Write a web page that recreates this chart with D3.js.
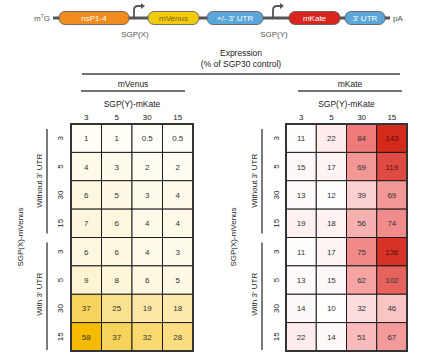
<!DOCTYPE html>
<html><head><meta charset="utf-8">
<script src="https://cdn.jsdelivr.net/npm/d3@7/dist/d3.min.js"></script>
<style>body{margin:0;background:#fff}svg{display:block;font-family:"Liberation Sans",Arial,sans-serif}</style>
</head><body><svg id="c" width="438" height="364"></svg>
<script>
const colLabels = ["3","5","30","15"];
const rowLabels = ["3","5","30","15"];
const groups = ["Without 3' UTR","With 3' UTR"];
const mVenus = [
  [1,1,0.5,0.5],[4,3,2,2],[6,5,3,4],[7,6,4,4],
  [6,6,4,3],[9,8,6,5],[37,25,19,18],[58,37,32,28]
];
const mKate = [
  [11,22,84,143],[15,17,69,119],[13,12,39,69],[19,18,56,74],
  [11,17,75,136],[13,15,62,102],[14,10,32,46],[22,14,51,67]
];
const parts = [
  {name:"nsP1-4", x0:59, x1:129, fill:"#f08b1d", text:"#fff"},
  {name:"mVenus", x0:148, x1:199, fill:"#f1cb10", text:"#7a5e00"},
  {name:"+/- 3' UTR", x0:207, x1:263, fill:"#5ba7d9", text:"#fff"},
  {name:"mKate", x0:289, x1:340, fill:"#d8261e", text:"#fff"},
  {name:"3' UTR", x0:345, x1:385, fill:"#5ba7d9", text:"#fff"}
];
const promoters = [{name:"SGP(X)", x:134},{name:"SGP(Y)", x:273}];

const svg = d3.select("#c");
const yL = 18;
const dx = d3.scaleLinear().domain([0,1]).range([53,390]);
svg.append("line").attr("x1",dx(0)).attr("x2",dx(1)).attr("y1",yL).attr("y2",yL)
  .attr("stroke","#555").attr("stroke-width",3);
const m7 = svg.append("text").attr("x",50).attr("y",yL+3).attr("text-anchor","end")
  .attr("font-size",8).attr("fill","#555");
m7.append("tspan").text("m");
m7.append("tspan").attr("dy",-3).attr("font-size",5.5).text("7");
m7.append("tspan").attr("dy",3).text("G");
svg.append("text").attr("x",393).attr("y",yL+3).attr("font-size",8).attr("fill","#555").text("pA");
parts.forEach(p=>{
  svg.append("rect").attr("x",p.x0).attr("y",yL-6.5).attr("width",p.x1-p.x0).attr("height",13)
    .attr("rx",6).attr("fill",p.fill).attr("stroke","#555").attr("stroke-width",0.8);
  svg.append("text").attr("x",(p.x0+p.x1)/2).attr("y",yL+3).attr("text-anchor","middle")
    .attr("font-size",8).attr("fill",p.text).text(p.name);
});
promoters.forEach(p=>{
  svg.append("path").attr("d",`M${p.x},${yL} L${p.x},${yL-8} Q${p.x},${yL-12} ${p.x+4},${yL-12} L${p.x+7},${yL-12}`)
    .attr("fill","none").attr("stroke","#555").attr("stroke-width",1.8);
  svg.append("path").attr("d",`M${p.x+7},${yL-15} L${p.x+11},${yL-12} L${p.x+7},${yL-9} Z`).attr("fill","#555");
  svg.append("text").attr("x",p.x+1).attr("y",37).attr("text-anchor","middle")
    .attr("font-size",8).attr("fill","#555").text(p.name);
});

svg.append("text").attr("x",241).attr("y",56).attr("text-anchor","middle").attr("font-size",8.5).attr("fill","#222").text("Expression");
svg.append("text").attr("x",241).attr("y",67).attr("text-anchor","middle").attr("font-size",8.5).attr("fill","#222").text("(% of SGP30 control)");
svg.append("line").attr("x1",82).attr("x2",400).attr("y1",74).attr("y2",74).attr("stroke","#444").attr("stroke-width",1.3);

const yScale = d3.scaleBand().domain(d3.range(8)).range([124,351]);
const yellow = d3.scaleLinear().domain([0,58]).range(["#fffefa","#f4bb00"]);
const red = d3.scaleLinear().domain([10,40,80,143]).range(["#ffffff","#fbd0d0","#f08080","#d42a1c"]).clamp(true);

function panel(data, color, x0, x1, title, lineX0, lineX1, rowLabX, grpLabX, grpLineX, axisLabX){
  const xs = d3.scaleBand().domain(d3.range(4)).range([x0,x1]);
  svg.append("text").attr("x",(lineX0+lineX1)/2).attr("y",87).attr("text-anchor","middle").attr("font-size",8.5).attr("fill","#222").text(title);
  svg.append("line").attr("x1",lineX0).attr("x2",lineX1).attr("y1",91).attr("y2",91).attr("stroke","#444").attr("stroke-width",1.3);
  svg.append("text").attr("x",(x0+x1)/2).attr("y",107).attr("text-anchor","middle").attr("font-size",8.5).attr("fill","#222").text("SGP(Y)-mKate");
  colLabels.forEach((c,i)=>svg.append("text").attr("x",xs(i)+xs.bandwidth()/2).attr("y",120)
    .attr("text-anchor","middle").attr("font-size",8).attr("fill","#222").text(c));
  const g = svg.append("g");
  data.forEach((row,r)=>row.forEach((v,c)=>{
    g.append("rect").attr("x",xs(c)).attr("y",yScale(r)).attr("width",xs.bandwidth()).attr("height",yScale.bandwidth())
      .attr("fill",color(v)).attr("stroke","#111").attr("stroke-width",0.9);
    g.append("text").attr("x",xs(c)+xs.bandwidth()/2).attr("y",yScale(r)+yScale.bandwidth()/2+3)
      .attr("text-anchor","middle").attr("font-size",8).attr("fill", v>110 && color===red ? "#5a0c08" : "#333").text(v);
  }));
  svg.append("rect").attr("x",x0).attr("y",124).attr("width",x1-x0).attr("height",227)
    .attr("fill","none").attr("stroke","#333").attr("stroke-width",2);
  d3.range(8).forEach(r=>{
    const cy = yScale(r)+yScale.bandwidth()/2;
    svg.append("text").attr("transform",`translate(${rowLabX},${cy}) rotate(-90)`).attr("text-anchor","middle")
      .attr("font-size",8).attr("fill","#222").text(rowLabels[r%4]);
  });
  groups.forEach((gname,gi)=>{
    const ya = yScale(gi*4)+5, yb = yScale(gi*4+3)+yScale.bandwidth()-(gi===0?4:1);
    svg.append("line").attr("x1",grpLineX).attr("x2",grpLineX).attr("y1",ya).attr("y2",yb).attr("stroke","#333").attr("stroke-width",1.3);
    svg.append("text").attr("transform",`translate(${grpLabX},${(yScale(gi*4)+yScale(gi*4+3)+yScale.bandwidth())/2}) rotate(-90)`)
      .attr("text-anchor","middle").attr("font-size",8).attr("fill","#222").text(gname);
  });
  svg.append("text").attr("transform",`translate(${axisLabX},237) rotate(-90)`).attr("text-anchor","middle")
    .attr("font-size",8).attr("fill","#222").text("SGP(X)-mVenus");
}
panel(mVenus, yellow, 71, 193, "mVenus", 81, 185, 63, 42, 47, 23);
panel(mKate, red, 286, 407, "mKate", 298, 402, 279, 257, 262, 236);
</script></body></html>
